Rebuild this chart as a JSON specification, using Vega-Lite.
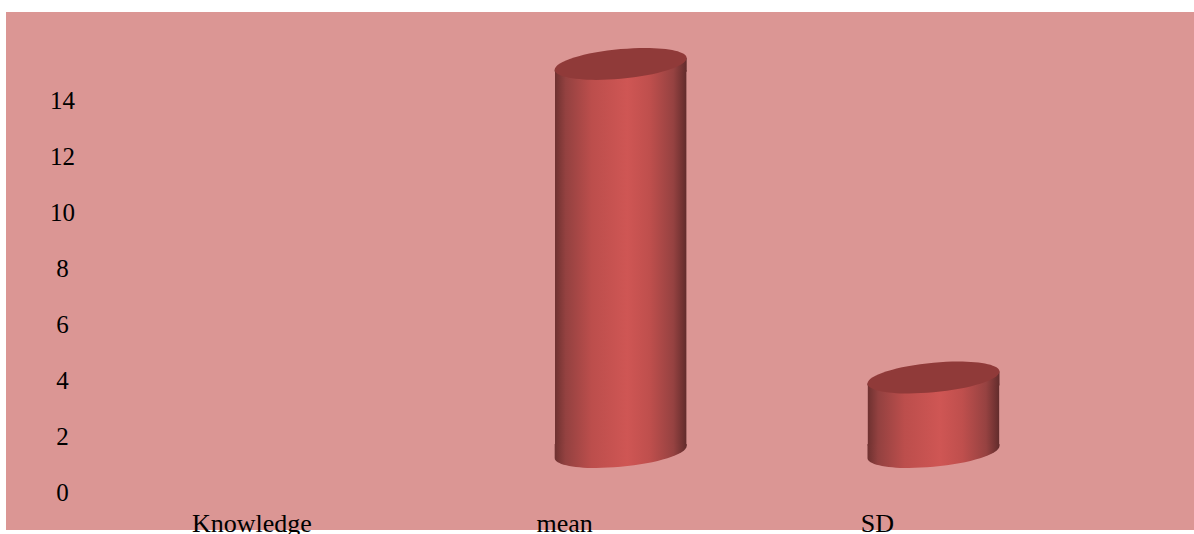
{
  "$schema": "https://vega.github.io/schema/vega-lite/v6.json",
  "width": 1188,
  "height": 518,
  "autosize": {"type": "none"},
  "padding": {"left": 6, "top": 12, "right": 0, "bottom": 4},
  "background": "#ffffff",
  "view": {"fill": "#DB9694", "stroke": null},
  "data": {"values": [
    {"item": "mean", "value": 13.86},
    {"item": "SD", "value": 2.66}
  ]},
  "encoding": {
    "x": {
      "field": "item",
      "type": "nominal",
      "title": null,
      "sort": null,
      "scale": {"domain": ["Knowledge", "mean", "SD"], "paddingInner": 0.58, "paddingOuter": 0.689, "align": 0.548},
      "axis": {
        "orient": "bottom",
        "domain": false,
        "ticks": false,
        "grid": false,
        "labelAngle": 0,
        "labelOffset": -56,
        "labelPadding": 1,
        "labelBaseline": "alphabetic",
        "labelFont": "Liberation Serif",
        "labelFontSize": 26,
        "labelColor": "#000000",
        "labelOverlap": false
      }
    }
  },
  "layer": [
    {
      "mark": {
        "type": "bar",
        "yOffset": -34.5,
        "y2Offset": -46.5,
        "fill": {
          "x1": 0, "y1": 0, "x2": 1, "y2": 0,
          "gradient": "linear",
          "stops": [
            {"offset": 0, "color": "#6E3130"},
            {"offset": 0.08, "color": "#934140"},
            {"offset": 0.28, "color": "#BC4E4C"},
            {"offset": 0.55, "color": "#CF5654"},
            {"offset": 0.72, "color": "#BF4F4D"},
            {"offset": 0.9, "color": "#964241"},
            {"offset": 1, "color": "#622C2C"}
          ]
        }
      },
      "encoding": {
        "y": {
          "field": "value",
          "type": "quantitative",
          "title": null,
          "scale": {"domain": [-1.34, 17.16], "nice": false, "zero": false},
          "axis": {
            "orient": "left",
            "offset": -56,
            "values": [0, 2, 4, 6, 8, 10, 12, 14],
            "domain": false,
            "ticks": false,
            "grid": false,
            "labelAlign": "center",
            "labelBaseline": "middle",
            "labelPadding": 0,
            "labelFont": "Liberation Serif",
            "labelFontSize": 25,
            "labelColor": "#000000"
          }
        },
        "y2": {"datum": 0}
      }
    },
    {
      "mark": {
        "type": "point",
        "filled": true,
        "opacity": 1,
        "size": 17424,
        "yOffset": -40.5,
        "shape": "M1,-0.09C1,0.0343,0.5523,0.1753,0,0.225C-0.5523,0.2747,-1,0.2143,-1,0.09L-1,-0.12L1,-0.12Z",
        "fill": {
          "x1": 0, "y1": 0, "x2": 1, "y2": 0,
          "gradient": "linear",
          "stops": [
            {"offset": 0, "color": "#6E3130"},
            {"offset": 0.08, "color": "#934140"},
            {"offset": 0.28, "color": "#BC4E4C"},
            {"offset": 0.55, "color": "#CF5654"},
            {"offset": 0.72, "color": "#BF4F4D"},
            {"offset": 0.9, "color": "#964241"},
            {"offset": 1, "color": "#622C2C"}
          ]
        }
      },
      "encoding": {"y": {"datum": 0, "type": "quantitative"}}
    },
    {
      "mark": {
        "type": "point",
        "filled": true,
        "opacity": 1,
        "size": 17424,
        "yOffset": -40.5,
        "shape": "M1,-0.09L1,0.12L-1,0.12L-1,0.09Z",
        "fill": {
          "x1": 0, "y1": 0, "x2": 1, "y2": 0,
          "gradient": "linear",
          "stops": [
            {"offset": 0, "color": "#6E3130"},
            {"offset": 0.08, "color": "#934140"},
            {"offset": 0.28, "color": "#BC4E4C"},
            {"offset": 0.55, "color": "#CF5654"},
            {"offset": 0.72, "color": "#BF4F4D"},
            {"offset": 0.9, "color": "#964241"},
            {"offset": 1, "color": "#622C2C"}
          ]
        }
      },
      "encoding": {"y": {"field": "value", "type": "quantitative"}}
    },
    {
      "mark": {
        "type": "point",
        "filled": true,
        "opacity": 1,
        "size": 17424,
        "yOffset": -40.5,
        "shape": "M1,-0.09C1,0.0343,0.5523,0.1753,0,0.225C-0.5523,0.2747,-1,0.2143,-1,0.09C-1,-0.0343,-0.5523,-0.1753,0,-0.225C0.5523,-0.2747,1,-0.2143,1,-0.09Z",
        "fill": "#903A39"
      },
      "encoding": {"y": {"field": "value", "type": "quantitative"}}
    }
  ]
}
